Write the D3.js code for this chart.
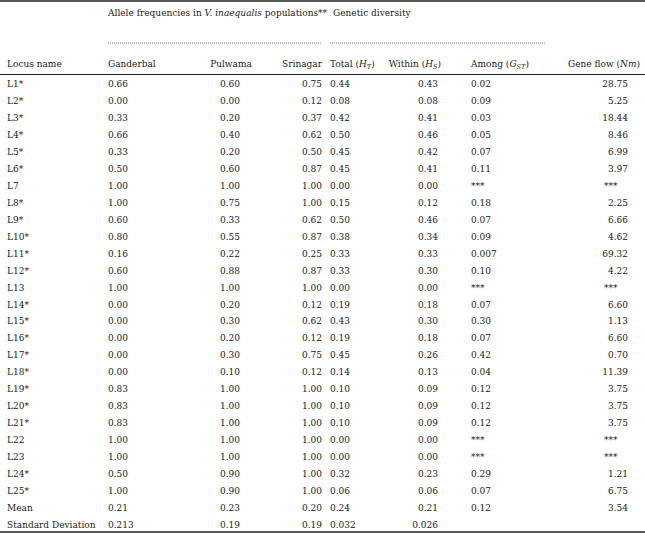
<!DOCTYPE html>
<html><head><meta charset="utf-8">
<script src="https://cdn.jsdelivr.net/npm/d3@7"></script>
<style>body{margin:0;background:#fff}svg text{font-family:"DejaVu Serif",serif;font-size:9px;fill:#222}</style>
</head><body><div id="chart"></div>
<script>
// table values, kept as strings so the printed precision stays the same
var loci = ["L1*","L2*","L3*","L4*","L5*","L6*","L7","L8*","L9*","L10*","L11*","L12*","L13","L14*","L15*","L16*","L17*","L18*","L19*","L20*","L21*","L22","L23","L24*","L25*","Mean","Standard Deviation"];
var ganderbal = ["0.66","0.00","0.33","0.66","0.33","0.50","1.00","1.00","0.60","0.80","0.16","0.60","1.00","0.00","0.00","0.00","0.00","0.00","0.83","0.83","0.83","1.00","1.00","0.50","1.00","0.21","0.213"];
var pulwama = ["0.60","0.00","0.20","0.40","0.20","0.60","1.00","0.75","0.33","0.55","0.22","0.88","1.00","0.20","0.30","0.20","0.30","0.10","1.00","1.00","1.00","1.00","1.00","0.90","0.90","0.23","0.19"];
var srinagar = ["0.75","0.12","0.37","0.62","0.50","0.87","1.00","1.00","0.62","0.87","0.25","0.87","1.00","0.12","0.62","0.12","0.75","0.12","1.00","1.00","1.00","1.00","1.00","1.00","1.00","0.20","0.19"];
var totalHT = ["0.44","0.08","0.42","0.50","0.45","0.45","0.00","0.15","0.50","0.38","0.33","0.33","0.00","0.19","0.43","0.19","0.45","0.14","0.10","0.10","0.10","0.00","0.00","0.32","0.06","0.24","0.032"];
var withinHS = ["0.43","0.08","0.41","0.46","0.42","0.41","0.00","0.12","0.46","0.34","0.33","0.30","0.00","0.18","0.30","0.18","0.26","0.13","0.09","0.09","0.09","0.00","0.00","0.23","0.06","0.21","0.026"];
var amongGST = ["0.02","0.09","0.03","0.05","0.07","0.11","***","0.18","0.07","0.09","0.007","0.10","***","0.07","0.30","0.07","0.42","0.04","0.12","0.12","0.12","***","***","0.29","0.07","0.12",""];
var geneFlow = ["28.75","5.25","18.44","8.46","6.99","3.97","***","2.25","6.66","4.62","69.32","4.22","***","6.60","1.13","6.60","0.70","11.39","3.75","3.75","3.75","***","***","1.21","6.75","3.54",""];

var W = 645, H = 534;
var svg = d3.select("#chart").append("svg").attr("width", W).attr("height", H);

// column layout: x anchor and text-anchor for header + values
var cols = [
  {vals: loci, x: 7, anchor: "start", head: [["Locus name"]]},
  {vals: ganderbal, x: 108, anchor: "start", head: [["Ganderbal"]]},
  {vals: pulwama, x: 230, anchor: "middle", head: [["Pulwama"]], hx: 231},
  {vals: srinagar, x: 322, anchor: "end", head: [["Srinagar"]]},
  {vals: totalHT, x: 330, anchor: "start", head: [["Total ("], ["H", "i"], ["T", "sub"], [")"]]},
  {vals: withinHS, x: 438, anchor: "end", head: [["Within ("], ["H", "i"], ["S", "sub"], [")"]], hx: 441},
  {vals: amongGST, x: 471, anchor: "start", head: [["Among ("], ["G", "i"], ["ST", "sub"], [")"]]},
  {vals: geneFlow, x: 628, anchor: "end", head: [["Gene flow ("], ["Nm", "i"], [")"]], hx: 640, star: 604}
];

var y = d3.scalePoint().domain(d3.range(loci.length)).range([84, 525]);

// rules
svg.append("line").attr("x1", 0).attr("x2", W).attr("y1", 1).attr("y2", 1).attr("stroke", "#222").attr("stroke-width", 1.5);
svg.append("line").attr("x1", 0).attr("x2", W).attr("y1", 74.5).attr("y2", 74.5).attr("stroke", "#222").attr("stroke-width", 1);
svg.append("line").attr("x1", 0).attr("x2", W).attr("y1", 532).attr("y2", 532).attr("stroke", "#222").attr("stroke-width", 1.5);

function rich(g, parts) {
  var sub = false;
  parts.forEach(function(p) {
    var t = g.append("tspan").text(p[0]);
    if (p[1] === "i") t.attr("font-style", "italic");
    if (p[1] === "sub") { t.attr("font-style", "italic").attr("font-size", "6.5px").attr("dy", 2); sub = true; }
    else if (sub) { t.attr("dy", -2); sub = false; }
  });
}
var g1 = svg.append("text").attr("x", 108).attr("y", 16);
rich(g1, [["Allele frequencies in "], ["V. inaequalis", "i"], [" populations**"]]);
var g2 = svg.append("text").attr("x", 333).attr("y", 16);
rich(g2, [["Genetic diversity"]]);
svg.append("line").attr("x1", 108).attr("x2", 322).attr("y1", 43).attr("y2", 43).attr("stroke", "#555").attr("stroke-width", 0.7).attr("stroke-dasharray", "1,1");
svg.append("line").attr("x1", 330).attr("x2", 546).attr("y1", 43).attr("y2", 43).attr("stroke", "#555").attr("stroke-width", 0.7).attr("stroke-dasharray", "1,1");

cols.forEach(function(c) {
  var h = svg.append("text").attr("x", c.hx || c.x).attr("y", 67).attr("text-anchor", c.hx && c.anchor === "end" ? "end" : c.anchor);
  rich(h, c.head);
  svg.append("g").selectAll("text").data(c.vals).join("text")
    .attr("x", function(d) { return c.star && d === "***" ? c.star : c.x; })
    .attr("y", function(d, i) { return y(i) + 3; })
    .attr("text-anchor", function(d) { return c.star && d === "***" ? "start" : c.anchor; })
    .text(function(d) { return d; });
});
</script></body></html>
